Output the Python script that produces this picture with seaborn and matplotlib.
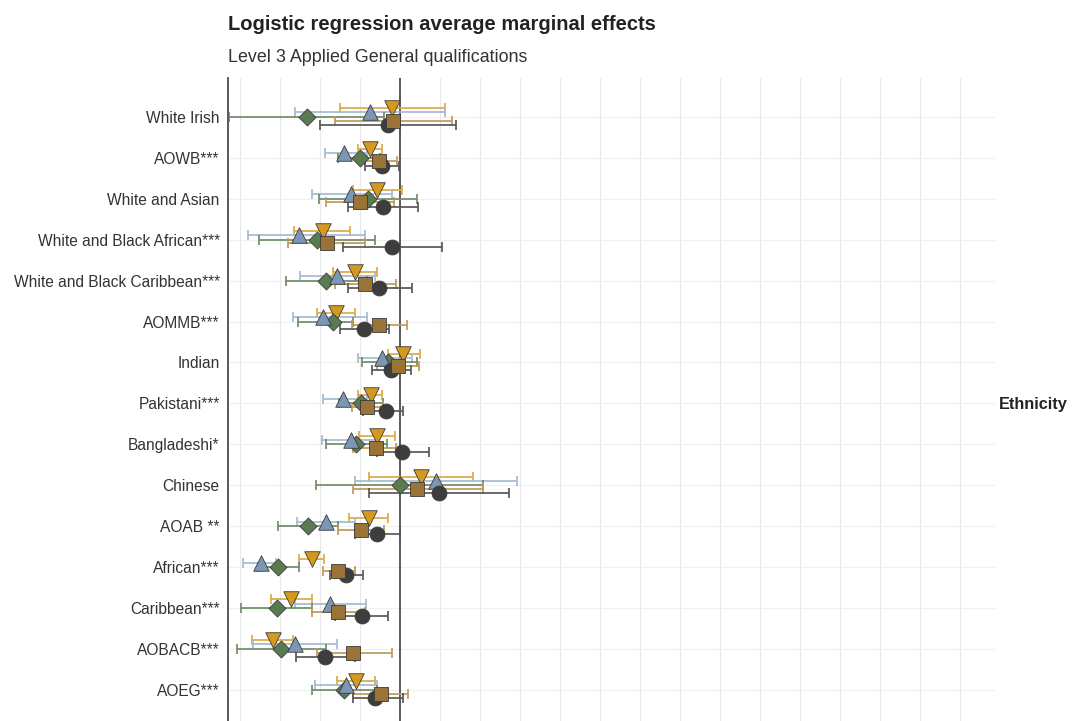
import numpy as np
import pandas as pd
import matplotlib
matplotlib.use("Agg")
import matplotlib.pyplot as plt
import seaborn as sns

categories = ["White Irish", "AOWB***", "White and Asian", "White and Black African***",
              "White and Black Caribbean***", "AOMMB***", "Indian", "Pakistani***",
              "Bangladeshi*", "Chinese", "AOAB **", "African***", "Caribbean***",
              "AOBACB***", "AOEG***"]

series = ["Model 1", "Model 2", "Model 3", "Model 4", "Model 5"]

# estimates / lower / upper per series (same order as categories)
est_1 = [-0.004, -0.015, -0.0115, -0.0385, -0.0225, -0.032, 0.0015, -0.0145, -0.0115, 0.0105, -0.0155, -0.044, -0.0545, -0.0635, -0.022]
lo_1  = [-0.030, -0.021, -0.0235, -0.053, -0.0335, -0.0415, -0.006, -0.021, -0.0205, -0.0155, -0.0255, -0.0505, -0.0645, -0.074, -0.0315]
hi_1  = [0.0225, -0.009, 0.001, -0.025, -0.0115, -0.0225, 0.010, -0.009, -0.0025, 0.0365, -0.006, -0.038, -0.044, -0.0535, -0.0125]

est_2 = [-0.015, -0.028, -0.0245, -0.0505, -0.0315, -0.0385, -0.009, -0.0285, -0.0245, 0.018, -0.037, -0.0695, -0.035, -0.0525, -0.027]
lo_2  = [-0.0525, -0.0375, -0.044, -0.076, -0.050, -0.0535, -0.021, -0.0385, -0.039, -0.0225, -0.0515, -0.0785, -0.0525, -0.0735, -0.0425]
hi_2  = [0.0225, -0.0165, -0.004, -0.0175, -0.0125, -0.0165, 0.006, -0.0165, -0.0115, 0.0585, -0.0225, -0.062, -0.017, -0.0315, -0.0115]

est_3 = [-0.0465, -0.020, -0.016, -0.0415, -0.037, -0.0335, -0.006, -0.0195, -0.022, 0.0, -0.046, -0.061, -0.0615, -0.0595, -0.028]
lo_3  = [-0.0855, -0.031, -0.0405, -0.0705, -0.057, -0.051, -0.019, -0.0305, -0.037, -0.042, -0.061, -0.071, -0.0795, -0.0815, -0.044]
hi_3  = [-0.008, -0.010, 0.0085, -0.0125, -0.0165, -0.0235, 0.0085, -0.0085, -0.0065, 0.0415, -0.031, -0.0505, -0.044, -0.037, -0.0115]

est_4 = [-0.0035, -0.0105, -0.020, -0.0365, -0.0175, -0.0105, -0.001, -0.0165, -0.012, 0.0085, -0.0195, -0.031, -0.031, -0.0235, -0.0095]
lo_4  = [-0.0325, -0.0175, -0.037, -0.056, -0.0325, -0.024, -0.0115, -0.024, -0.0235, -0.0235, -0.031, -0.0385, -0.044, -0.0415, -0.0235]
hi_4  = [0.026, -0.0015, -0.003, -0.0175, -0.002, 0.0035, 0.0095, -0.0085, -0.002, 0.0415, -0.008, -0.0225, -0.0175, -0.004, 0.004]

est_5 = [-0.006, -0.009, -0.0085, -0.004, -0.0105, -0.018, -0.0045, -0.007, 0.001, 0.0195, -0.0115, -0.027, -0.019, -0.0375, -0.0125]
lo_5  = [-0.040, -0.0175, -0.026, -0.0285, -0.026, -0.030, -0.014, -0.0185, -0.0115, -0.0155, -0.0225, -0.035, -0.0325, -0.052, -0.0235]
hi_5  = [0.028, -0.0005, 0.009, 0.021, 0.006, -0.0055, 0.0055, 0.0015, 0.0145, 0.0545, 0.0, -0.0185, -0.006, -0.0225, 0.0015]

rows = []
for s, (e, l, h) in zip(series, [(est_1, lo_1, hi_1), (est_2, lo_2, hi_2), (est_3, lo_3, hi_3),
                                 (est_4, lo_4, hi_4), (est_5, lo_5, hi_5)]):
    for c, ev, lv, hv in zip(categories, e, l, h):
        rows.append(dict(series=s, category=c, est=ev, lo=lv, hi=hv))
df = pd.DataFrame(rows)

offsets = {"Model 1": -0.21, "Model 2": -0.11, "Model 3": 0.0, "Model 4": 0.09, "Model 5": 0.19}
cat_idx = {c: i for i, c in enumerate(categories)}
df["ypos"] = df["category"].map(cat_idx) + df["series"].map(offsets)

fill = {"Model 1": "#d39a1f", "Model 2": "#7c96b6", "Model 3": "#5a7b52",
        "Model 4": "#9a7436", "Model 5": "#3d3d3d"}
bar_col = {"Model 1": "#dcaa45", "Model 2": "#a6bad2", "Model 3": "#718b69",
           "Model 4": "#bf9a58", "Model 5": "#585858"}
marker = {"Model 1": "v", "Model 2": "^", "Model 3": "D", "Model 4": "s", "Model 5": "o"}
msize = {"Model 1": 125, "Model 2": 125, "Model 3": 75, "Model 4": 90, "Model 5": 115}

sns.set_theme(style="white")
plt.rcParams["font.family"] = ["Liberation Sans", "DejaVu Sans"]

fig = plt.figure(figsize=(10.73, 7.21), dpi=100)
ax = fig.add_axes([228 / 1073, 0.0, (995 - 228) / 1073, 1 - 78 / 721])

# grid
for gx in np.arange(-0.08, 0.2801, 0.02):
    if abs(gx) > 1e-9:
        ax.axvline(gx, color="#e8e8e8", lw=0.8, zorder=0)
for i in range(len(categories)):
    ax.axhline(i, color="#f0f0f0", lw=0.8, zorder=0)
ax.axvline(0, color="#5a5a5a", lw=1.4, zorder=1)

for s in series:
    d = df[df["series"] == s]
    ax.errorbar(d["est"], d["ypos"], xerr=[d["est"] - d["lo"], d["hi"] - d["est"]],
                fmt="none", ecolor=bar_col[s], elinewidth=1.25, capsize=3.8, capthick=1.25,
                zorder=2)

for s in ["Model 1", "Model 3", "Model 2", "Model 5", "Model 4"]:
    d = df[df["series"] == s]
    sns.scatterplot(data=d, x="est", y="ypos", marker=marker[s], color=fill[s],
                    s=msize[s], edgecolor="#3a3a3a", linewidth=0.6, legend=False,
                    ax=ax, zorder=3)

ax.set_xlim(-0.086, 0.2975)
ax.set_ylim(14.76, -0.95)
ax.set_yticks(range(len(categories)))
ax.set_yticklabels(categories, fontsize=11.2, color="#333333")
ax.set_xticks([])
ax.tick_params(axis="y", length=0, pad=6)
ax.set_xlabel("")
ax.set_ylabel("")
for sp in ["top", "right", "bottom"]:
    ax.spines[sp].set_visible(False)
ax.spines["left"].set_color("#5a5a5a")
ax.spines["left"].set_linewidth(1.4)

fig.text(228 / 1073, 1 - 24 / 721, "Logistic regression average marginal effects",
         fontsize=14.5, fontweight="bold", color="#222222", va="center", ha="left")
fig.text(228 / 1073, 1 - 57 / 721, "Level 3 Applied General qualifications",
         fontsize=12.9, color="#333333", va="center", ha="left")
fig.text(999 / 1073, 1 - 404 / 721, "Ethnicity", fontsize=11.7, fontweight="bold",
         color="#222222", va="center", ha="left")

fig.savefig("out.png", dpi=100, facecolor="white")
